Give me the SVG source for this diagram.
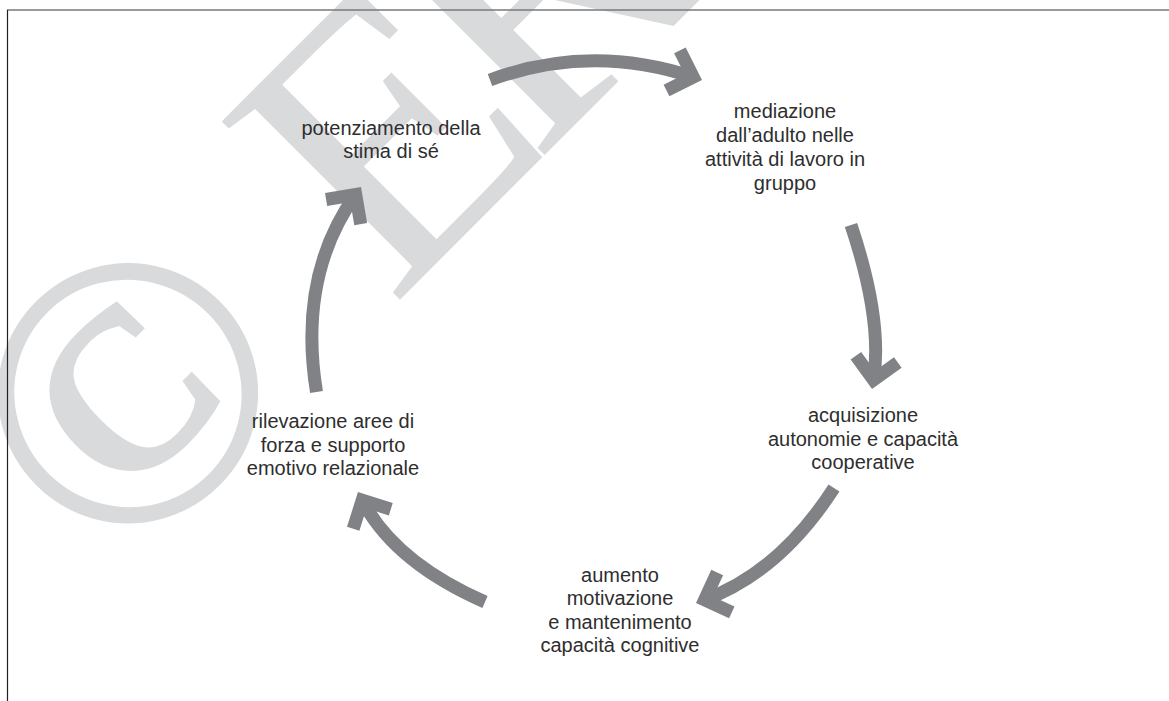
<svg xmlns="http://www.w3.org/2000/svg" width="1169" height="701" viewBox="0 0 1169 701">
  <style>
    .wm { font-family: "Liberation Serif", "Times New Roman", serif; font-size: 385px; fill: #d9dadb; }
    .lbl { font-family: "Liberation Sans", Arial, sans-serif; font-size: 20px; fill: #2e2e2e; text-anchor: middle; }
    .arc { fill: none; stroke: #808285; stroke-width: 13; stroke-linecap: butt; }
    .head { fill: none; stroke: #808285; stroke-width: 13; stroke-linecap: butt; stroke-linejoin: miter; stroke-miterlimit: 10; }
  </style>
  <rect x="0" y="0" width="1169" height="701" fill="#ffffff"/>

  <g id="watermark">
    <text class="wm" transform="translate(113.6 586) rotate(-45)"><tspan font-weight="bold">©</tspan><tspan dx="10"> E</tspan><tspan dx="-33">RICKSON</tspan></text>
  </g>

  <g id="frame">
    <line x1="7" y1="10" x2="1169" y2="10" stroke="#77787b" stroke-width="1.6"/>
    <line x1="7.5" y1="10" x2="7.5" y2="701" stroke="#231f20" stroke-width="1.2"/>
  </g>

  <g id="connectors">
    <path class="arc" d="M490,80 Q590,43 693.3,77.1"/>
    <polyline class="head" points="679.9,50.3 693.3,77.1 666.5,90.5"/>

    <path class="arc" d="M851,225 Q883,320.8 873.5,380"/>
    <polyline class="head" points="855.9,355.7 873.5,380 897.8,362.4"/>

    <path class="arc" d="M834,488 Q779.7,572.2 704.6,599.8"/>
    <polyline class="head" points="717.2,572.6 704.6,599.8 731.8,612.4"/>

    <path class="arc" d="M485,602 Q394.5,562.3 362.2,500.2"/>
    <polyline class="head" points="390.8,509.2 362.2,500.2 353.2,528.8"/>

    <path class="arc" d="M316.5,392 Q297.6,275.9 355.7,194.5"/>
    <polyline class="head" points="326.1,199.5 355.7,194.5 360.7,224.1"/>
  </g>

  <g id="node-potenziamento">
    <text class="lbl" x="391" y="135">potenziamento della</text>
    <text class="lbl" x="391" y="158">stima di sé</text>
  </g>

  <g id="node-mediazione">
    <text class="lbl" x="785" y="118">mediazione</text>
    <text class="lbl" x="785" y="142">dall’adulto nelle</text>
    <text class="lbl" x="785" y="166">attività di lavoro in</text>
    <text class="lbl" x="785" y="190">gruppo</text>
  </g>

  <g id="node-acquisizione">
    <text class="lbl" x="863" y="422">acquisizione</text>
    <text class="lbl" x="863" y="446">autonomie e capacità</text>
    <text class="lbl" x="863" y="469">cooperative</text>
  </g>

  <g id="node-aumento">
    <text class="lbl" x="620" y="582">aumento</text>
    <text class="lbl" x="620" y="605">motivazione</text>
    <text class="lbl" x="620" y="629">e mantenimento</text>
    <text class="lbl" x="620" y="652">capacità cognitive</text>
  </g>

  <g id="node-rilevazione">
    <text class="lbl" x="333" y="428">rilevazione aree di</text>
    <text class="lbl" x="333" y="452">forza e supporto</text>
    <text class="lbl" x="333" y="475">emotivo relazionale</text>
  </g>
</svg>
